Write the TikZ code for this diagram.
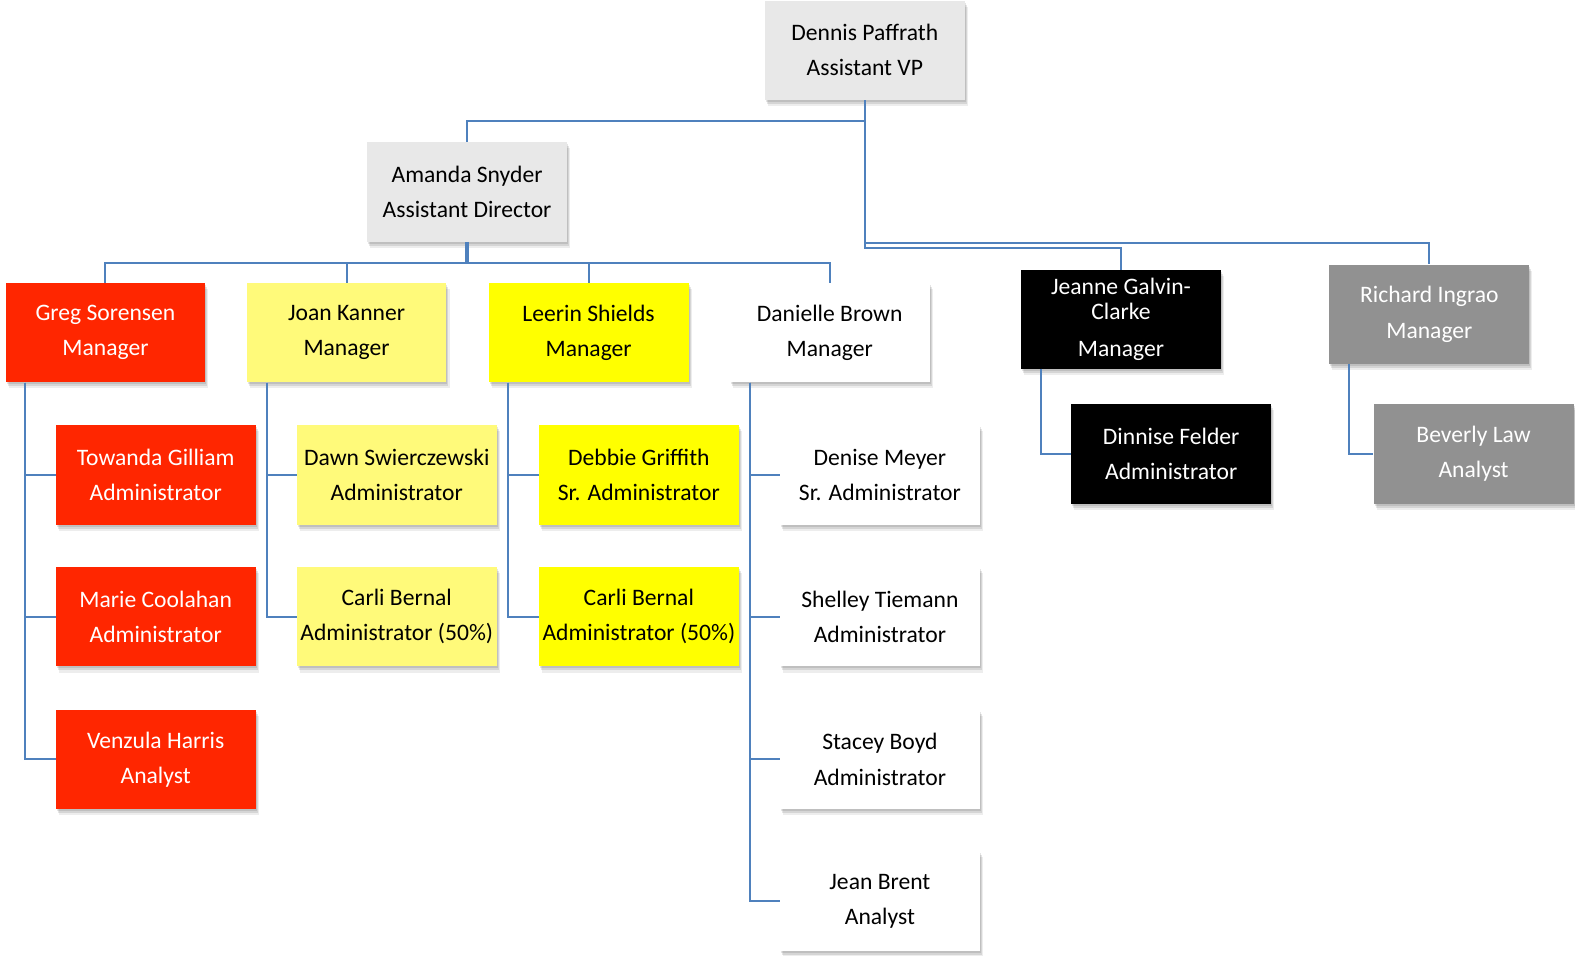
\documentclass[tikz,border=0pt]{standalone}
\usepackage{fontspec}
\setmainfont{Carlito}
\definecolor{linec}{RGB}{79,129,189}
\definecolor{vpgray}{RGB}{232,232,232}
\definecolor{redc}{RGB}{255,38,0}
\definecolor{lyel}{RGB}{255,250,122}
\definecolor{byel}{RGB}{255,255,0}
\definecolor{midgray}{RGB}{145,145,145}
\tikzset{
  box/.style={rectangle, minimum width=199pt, minimum height=99pt, inner sep=0pt, align=center,
    font=\fontsize{23.5}{35}\selectfont,
    preaction={fill=black, opacity=0.10, transform canvas={shift={(1pt,-2pt)}}},
    preaction={fill=black, opacity=0.10, transform canvas={shift={(2pt,-4pt)}}},
    preaction={fill=black, opacity=0.07, transform canvas={shift={(3pt,-6pt)}}}},
  greybox/.style={box, fill=vpgray, text=black},
  redbox/.style={box, fill=redc, text=white},
  lybox/.style={box, fill=lyel, text=black},
  bybox/.style={box, fill=byel, text=black},
  whitebox/.style={box, fill=white, text=black},
  blackbox/.style={box, fill=black, text=white},
  mgbox/.style={box, fill=midgray, text=white},
  conn/.style={draw=linec, line width=2pt},
}
\begin{document}
\begin{tikzpicture}[x=1pt,y=-1pt]
\useasboundingbox (0,0) rectangle (1568,951);
% connectors first
\coordinate (vpa) at (861,120);
\coordinate (vpj) at (861,247);
\coordinate (vpr) at (861,242);
\coordinate (adbar) at (465,262);
\coordinate (gv) at (25,381);
\coordinate (jv) at (266,381);
\coordinate (lv) at (506,381);
\coordinate (dv) at (747,381);
\coordinate (jnv) at (1036,367);
\coordinate (rv) at (1343,362);
% nodes
\node[greybox] (dennis) at (861,50) {Dennis Paffrath\\Assistant VP};
\node[greybox] (amanda) at (465,191) {Amanda Snyder\\Assistant Director};
\node[redbox] (greg) at (105,331) {Greg Sorensen\\Manager};
\node[lybox] (joan) at (345,331) {Joan Kanner\\Manager};
\node[bybox] (leerin) at (586,331) {Leerin Shields\\Manager};
\node[whitebox] (danielle) at (826,331) {Danielle Brown\\Manager};
\node[blackbox] (jeanne) at (1116,318) {Jeanne Galvin-\\[-11pt]Clarke\\[2pt]Manager};
\node[mgbox] (richard) at (1423,313) {Richard Ingrao\\Manager};
\node[redbox] (towanda) at (155,473) {Towanda Gilliam\\Administrator};
\node[redbox] (marie) at (155,614) {Marie Coolahan\\Administrator};
\node[redbox] (venzula) at (155,756) {Venzula Harris\\Analyst};
\node[lybox] (dawn) at (395,473) {Dawn Swierczewski\\Administrator};
\node[lybox] (carlia) at (395,614) {Carli Bernal\\Administrator (50\%)};
\node[bybox] (debbie) at (636,473) {Debbie Griffith\\Sr. Administrator};
\node[bybox] (carlib) at (636,614) {Carli Bernal\\Administrator (50\%)};
\node[whitebox] (denise) at (876,473) {Denise Meyer\\Sr. Administrator};
\node[whitebox] (shelley) at (876,614) {Shelley Tiemann\\Administrator};
\node[whitebox] (stacey) at (876,756) {Stacey Boyd\\Administrator};
\node[whitebox] (jean) at (876,897) {Jean Brent\\Analyst};
\node[blackbox] (dinnise) at (1166,452) {Dinnise Felder\\Administrator};
\node[mgbox] (beverly) at (1467,452) {Beverly Law\\Analyst};
% connectors
\draw[conn] (dennis.south) -- (vpa) -| (amanda.north);
\draw[conn] (dennis.south) -- (vpj) -| (jeanne.north);
\draw[conn] (vpr) -| (richard.north);
\draw[conn, line width=3.5pt] (amanda.south) -- (adbar);
\draw[conn] (adbar) -| (greg.north);
\draw[conn] (adbar) -| (joan.north);
\draw[conn] (adbar) -| (leerin.north);
\draw[conn] (adbar) -| (danielle.north);
\draw[conn] (gv) |- (towanda.west);
\draw[conn] (gv) |- (marie.west);
\draw[conn] (gv) |- (venzula.west);
\draw[conn] (jv) |- (dawn.west);
\draw[conn] (jv) |- (carlia.west);
\draw[conn] (lv) |- (debbie.west);
\draw[conn] (lv) |- (carlib.west);
\draw[conn] (dv) |- (denise.west);
\draw[conn] (dv) |- (shelley.west);
\draw[conn] (dv) |- (stacey.west);
\draw[conn] (dv) |- (jean.west);
\draw[conn] (jnv) |- (dinnise.west);
\draw[conn] (rv) |- (beverly.west);
\end{tikzpicture}
\end{document}
